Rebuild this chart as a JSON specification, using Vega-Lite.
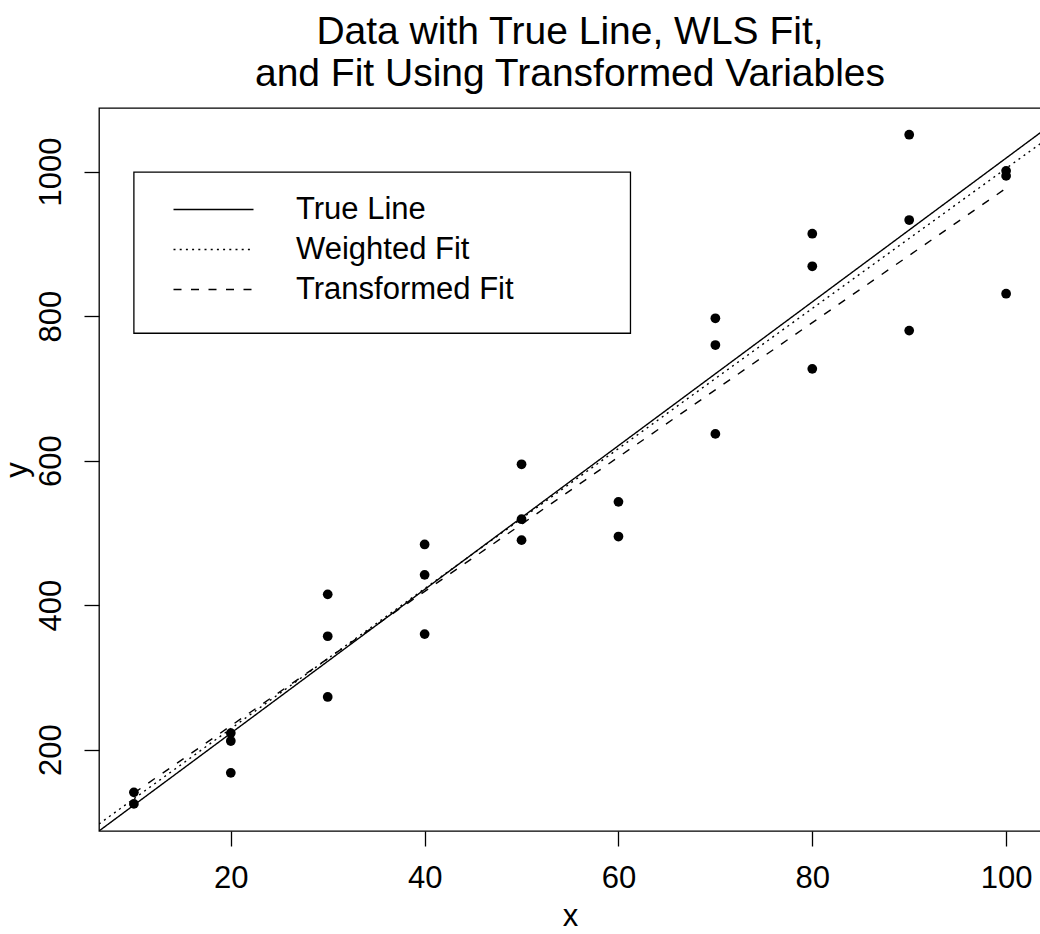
{
  "$schema": "https://vega.github.io/schema/vega-lite/v6.json",
  "autosize": "none",
  "width": 942,
  "height": 723,
  "padding": {"left": 99, "top": 108, "right": 0, "bottom": 103},
  "background": "white",
  "title": {
    "text": ["Data with True Line, WLS Fit,", "and Fit Using Transformed Variables"],
    "fontSize": 39,
    "font": "Liberation Sans",
    "fontWeight": "normal",
    "color": "black",
    "anchor": "middle",
    "lineHeight": 42,
    "offset": 14
  },
  "config": {
    "view": {"stroke": "black", "strokeWidth": 1.3},
    "axis": {
      "domain": false,
      "grid": false,
      "ticks": true,
      "tickColor": "black",
      "tickSize": 15,
      "tickWidth": 1.3,
      "labelFont": "Liberation Sans",
      "labelFontSize": 31,
      "labelColor": "black",
      "titleFont": "Liberation Sans",
      "titleFontSize": 31,
      "titleFontWeight": "normal",
      "titleColor": "black"
    }
  },
  "datasets": {
    "points": [
      {"x": 10, "y": 141}, {"x": 10, "y": 125},
      {"x": 20, "y": 223}, {"x": 20, "y": 212}, {"x": 20, "y": 168},
      {"x": 30, "y": 415}, {"x": 30, "y": 357}, {"x": 30, "y": 273},
      {"x": 40, "y": 484}, {"x": 40, "y": 442}, {"x": 40, "y": 360},
      {"x": 50, "y": 595}, {"x": 50, "y": 519}, {"x": 50, "y": 490},
      {"x": 60, "y": 543}, {"x": 60, "y": 495},
      {"x": 70, "y": 797}, {"x": 70, "y": 760}, {"x": 70, "y": 637},
      {"x": 80, "y": 914}, {"x": 80, "y": 869}, {"x": 80, "y": 727},
      {"x": 90, "y": 1051}, {"x": 90, "y": 933}, {"x": 90, "y": 780},
      {"x": 100, "y": 1001}, {"x": 100, "y": 994}, {"x": 100, "y": 831}
    ],
    "lines": [
      {"series": "True Line", "x": 6.4, "y": 87.5},
      {"series": "True Line", "x": 103.6, "y": 1054.5},
      {"series": "Weighted Fit", "x": 6.4, "y": 97.2},
      {"series": "Weighted Fit", "x": 103.6, "y": 1039.3},
      {"series": "Transformed Fit", "x": 10, "y": 140},
      {"series": "Transformed Fit", "x": 100, "y": 977}
    ],
    "legendBox": [
      {"x": 10.0, "x2": 61.24, "y": 999.2, "y2": 776.3}
    ]
  },
  "layer": [
    {
      "data": {"name": "legendBox"},
      "mark": {"type": "rect", "fill": "white", "stroke": "black", "strokeWidth": 1.3},
      "encoding": {
        "x": {"field": "x", "type": "quantitative"},
        "x2": {"field": "x2"},
        "y": {"field": "y", "type": "quantitative"},
        "y2": {"field": "y2"}
      }
    },
    {
      "data": {"name": "points"},
      "mark": {"type": "circle", "size": 95, "color": "black", "opacity": 1},
      "encoding": {
        "x": {
          "field": "x", "type": "quantitative",
          "scale": {"domain": [6.4, 103.6], "nice": false, "zero": false},
          "axis": {"values": [20, 40, 60, 80, 100], "labelPadding": 17, "titlePadding": 8, "title": "x"}
        },
        "y": {
          "field": "y", "type": "quantitative",
          "scale": {"domain": [87.5, 1088], "nice": false, "zero": false},
          "axis": {"values": [200, 400, 600, 800, 1000], "format": "d", "labelAngle": -90, "labelAlign": "center", "labelBaseline": "alphabetic", "labelPadding": 24, "titlePadding": 2, "title": "y"}
        }
      }
    },
    {
      "data": {"name": "lines"},
      "mark": {"type": "line", "strokeWidth": 1.4, "color": "black", "clip": true},
      "encoding": {
        "x": {"field": "x", "type": "quantitative"},
        "y": {"field": "y", "type": "quantitative"},
        "strokeDash": {
          "field": "series", "type": "nominal",
          "scale": {"domain": ["True Line", "Weighted Fit", "Transformed Fit"], "range": [[1, 0], [2, 4.2], [8, 9.5]]},
          "legend": {
            "orient": "none",
            "legendX": 35,
            "legendY": 64,
            "title": null,
            "symbolType": "M-4,0H4",
            "symbolSize": 400,
            "symbolStrokeWidth": 1.4,
            "symbolStrokeColor": "black",
            "labelFont": "Liberation Sans",
            "labelFontSize": 31,
            "labelColor": "black",
            "labelLimit": 800,
            "labelOffset": 67,
            "padding": 22,
            "symbolOffset": 42,
            "rowPadding": 8
          }
        }
      }
    }
  ]
}
